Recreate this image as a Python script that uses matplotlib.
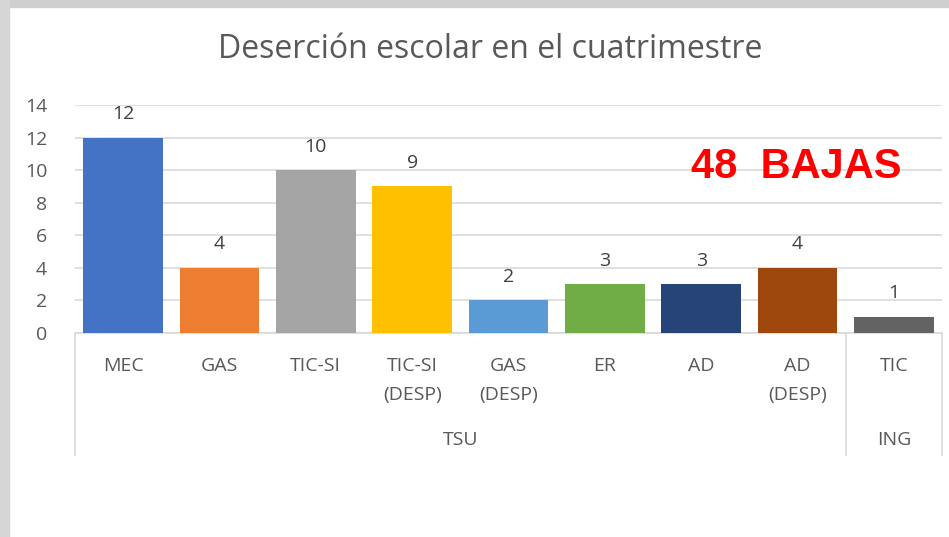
import numpy as np
import matplotlib.pyplot as plt
from matplotlib.transforms import blended_transform_factory
from matplotlib.patches import Rectangle

# data
categories = ['MEC', 'GAS', 'TIC-SI', 'TIC-SI\n(DESP)', 'GAS\n(DESP)', 'ER', 'AD', 'AD\n(DESP)', 'TIC']
values = [12, 4, 10, 9, 2, 3, 3, 4, 1]
colors = ['#4472C4', '#ED7D31', '#A5A5A5', '#FFC000', '#5B9BD5',
          '#70AD47', '#264478', '#9E480E', '#636363']
groups = ['TSU', 'ING']
group_sizes = [8, 1]

W, H = 949, 537
fig = plt.figure(figsize=(W / 100, H / 100), dpi=100)
plt.rcParams['font.family'] = ['Open Sans', 'DejaVu Sans']

# screenshot frame bits
fig.patches.append(Rectangle((0, 1 - 7 / H), 1, 7 / H, transform=fig.transFigure,
                             color='#CFCFCF', zorder=0))
fig.patches.append(Rectangle((0, 0), 9 / W, 1, transform=fig.transFigure,
                             color='#D6D6D6', zorder=0))

ax = fig.add_axes([75 / W, 1 - 333 / H, (942 - 75) / W, (333 - 105) / H])
x = np.arange(len(values))
bars = ax.bar(x, values, width=0.83, color=colors, zorder=3)
for xi, v in zip(x, values):
    ax.text(xi, v + 1.45, str(v), ha='center', va='center', fontsize=14, color='#404040')

ax.set_xlim(-0.5, len(values) - 0.5)
ax.set_ylim(0, 14)
ax.set_yticks(range(0, 15, 2))
ax.tick_params(axis='y', length=0, pad=20, labelsize=14, labelcolor='#595959')
ax.set_xticks([])
ax.grid(axis='y', color='#D9D9D9', linewidth=1.2, zorder=0)
for s in ['top', 'right', 'left']:
    ax.spines[s].set_visible(False)
ax.spines['bottom'].set_color('#D9D9D9')
ax.spines['bottom'].set_linewidth(1.2)

# multi-level category axis
tr = blended_transform_factory(ax.transData, fig.transFigure)
for xi, lab in zip(x, categories):
    ax.text(xi, 1 - 357 / H, lab, transform=tr, ha='center', va='top',
            fontsize=14, color='#595959', linespacing=1.8)
start = -0.5
ax.plot([start, start], [1 - 333 / H, 1 - 455 / H], transform=tr, color='#D9D9D9',
        lw=1.2, clip_on=False)
for g, n in zip(groups, group_sizes):
    end = start + n
    ax.text((start + end) / 2, 1 - 440 / H, g, transform=tr, ha='center', va='center',
            fontsize=14, color='#595959')
    ax.plot([end, end], [1 - 333 / H, 1 - 455 / H], transform=tr, color='#D9D9D9',
            lw=1.2, clip_on=False)
    start = end

fig.text(490 / W, 1 - 50 / H, 'Deserción escolar en el cuatrimestre', ha='center',
         va='center', fontsize=23, color='#595959')
fig.text(796 / W, 1 - 167 / H, '48  BAJAS', ha='center', va='center', fontsize=30,
         fontweight='bold', color='#FF0000', family='Liberation Sans')

fig.savefig('out.png', dpi=100)
